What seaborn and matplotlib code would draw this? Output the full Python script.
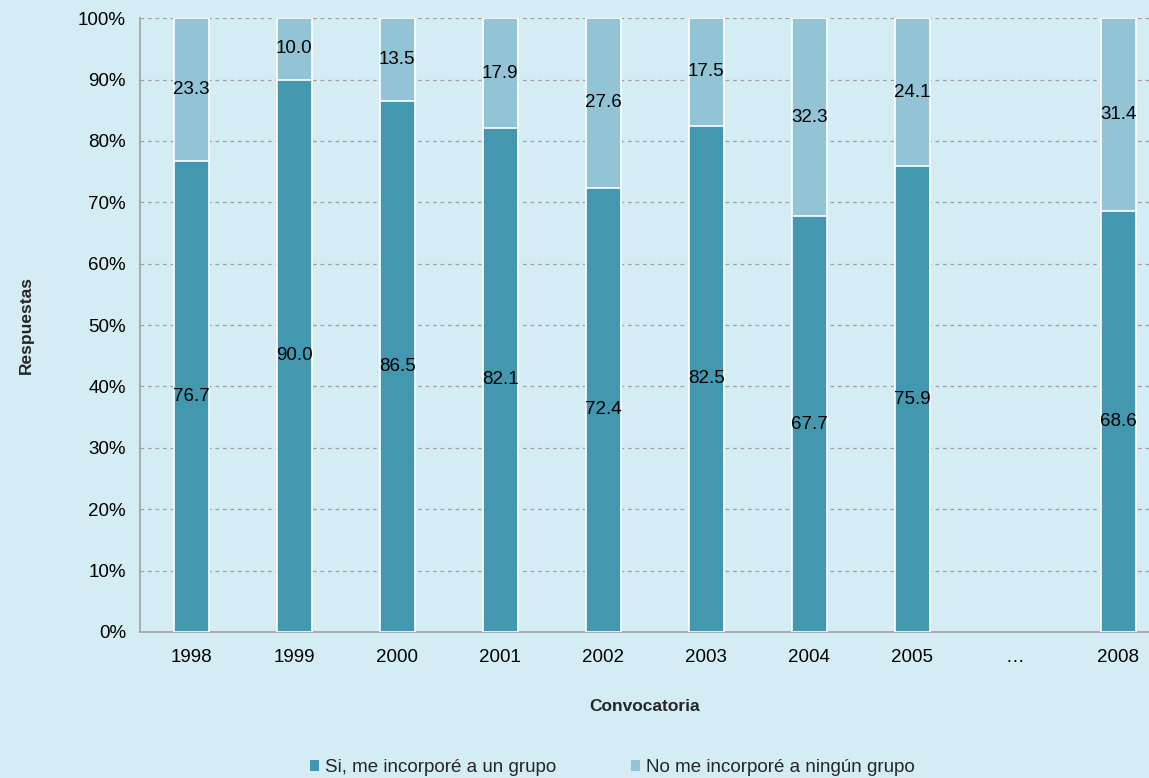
import numpy as np
import pandas as pd
import matplotlib
matplotlib.use("Agg")
import matplotlib.pyplot as plt
from matplotlib.patches import Patch
import seaborn as sns

years = ["1998", "1999", "2000", "2001", "2002", "2003", "2004", "2005", "\u2026", "2008"]
si_grupo = [76.7, 90.0, 86.5, 82.1, 72.4, 82.5, 67.7, 75.9, np.nan, 68.6]
no_grupo = [23.3, 10.0, 13.5, 17.9, 27.6, 17.5, 32.3, 24.1, np.nan, 31.4]

dark = "#4398B0"
light = "#93C4D5"
bg = "#D4EDF4"

sns.set_style("white")
plt.rcParams["font.family"] = ["Liberation Sans", "DejaVu Sans"]

df = pd.DataFrame({"year": years, "si": si_grupo, "no": no_grupo})
df["total"] = df["si"] + df["no"]

fig = plt.figure(figsize=(11.49, 7.78), dpi=100, facecolor=bg)
ax = fig.add_axes([0.1218, 0.1877, 0.8782, 0.789])
ax.set_facecolor(bg)

sns.barplot(data=df, x="year", y="total", order=years, color=light, width=0.34,
            edgecolor="white", linewidth=1.2, saturation=1, errorbar=None, ax=ax, zorder=3)
sns.barplot(data=df, x="year", y="si", order=years, color=dark, width=0.34,
            edgecolor="white", linewidth=1.2, saturation=1, errorbar=None, ax=ax, zorder=3)

for i, (s, n) in enumerate(zip(si_grupo, no_grupo)):
    if np.isnan(s):
        continue
    ax.text(i, s / 2, f"{s:.1f}", ha="center", va="center", fontsize=13.5, color="black", zorder=4)
    ax.text(i, s + n / 2, f"{n:.1f}", ha="center", va="center", fontsize=13.5, color="black", zorder=4)

ax.set_ylim(0, 100)
ax.set_xlim(-0.5, 9.3)
ax.set_yticks(np.arange(0, 101, 10))
ax.set_yticklabels([f"{v}%" for v in range(0, 101, 10)])
ax.yaxis.grid(True, linestyle=(0, (3, 3)), color="#A0A0A0", linewidth=0.9, zorder=0)
ax.set_axisbelow(True)

for side in ["top", "right"]:
    ax.spines[side].set_visible(False)
for side in ["left", "bottom"]:
    ax.spines[side].set_color("#A0A0A0")
    ax.spines[side].set_linewidth(1.2)

ax.tick_params(axis="y", labelsize=13.5, length=0, pad=10, colors="black")
ax.tick_params(axis="x", labelsize=13.5, length=0, pad=12, colors="black")
ax.set_xlabel("Convocatoria", fontsize=12.5, fontweight="bold", labelpad=24)
ax.set_ylabel("Respuestas", fontsize=12.5, fontweight="bold", labelpad=32)

handles = [Patch(facecolor=dark, edgecolor="none"), Patch(facecolor=light, edgecolor="none")]
labels = ["Si, me incorporé a un grupo", "No me incorporé a ningún grupo"]
ax.legend(handles, labels, loc="lower center", bbox_to_anchor=(0.5 - 0.032, -0.262),
          ncol=2, frameon=False, fontsize=13.5, handlelength=0.5, handleheight=0.5,
          handletextpad=0.3, columnspacing=4.0)

fig.savefig("out.png", dpi=100, facecolor=bg)
